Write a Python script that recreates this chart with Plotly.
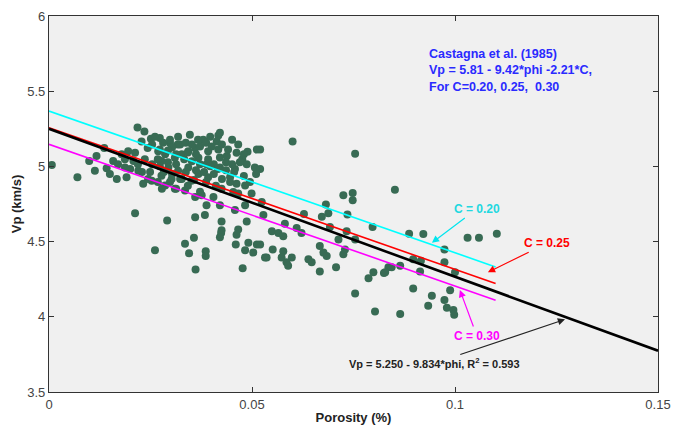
import numpy as np
import plotly.graph_objects as go

# ---- data ----
phi = [0.0007, 0.0218, 0.0235, 0.0251, 0.0228, 0.0243, 0.0136, 0.0117, 0.0099, 0.0113, 0.0070, 0.0142,
       0.0167, 0.0191, 0.0158, 0.0179, 0.0195, 0.0212, 0.0208, 0.0220, 0.0232, 0.0253, 0.0187, 0.0212,
       0.0273, 0.0298, 0.0317, 0.0380, 0.0417, 0.0413, 0.0417, 0.0438, 0.0462, 0.0489, 0.0512, 0.0476,
       0.0507, 0.0487, 0.0458, 0.0446, 0.0462, 0.0483, 0.0454, 0.0499, 0.0524, 0.0483, 0.0458, 0.0421,
       0.0388, 0.0405, 0.0376, 0.0360, 0.0335, 0.0310, 0.0286, 0.0384, 0.0425, 0.0291, 0.0360, 0.0425,
       0.0487, 0.0466, 0.0343, 0.0360, 0.0327, 0.0310, 0.0368, 0.0392, 0.0388, 0.0343, 0.0318, 0.0294,
       0.0277, 0.0269, 0.0368, 0.0392, 0.0351, 0.0327, 0.0302, 0.0277, 0.0421, 0.0425,
       0.0261, 0.0335, 0.0357, 0.0345, 0.0361, 0.0386, 0.0386, 0.0424, 0.0421, 0.0462, 0.0460, 0.0491,
       0.0512, 0.0483, 0.0503, 0.0477, 0.0532,
       0.0600, 0.0754, 0.0520, 0.0520, 0.0725, 0.0748, 0.0748, 0.0682, 0.0735, 0.0797, 0.0628, 0.0672,
       0.0688, 0.0528, 0.0581, 0.0610, 0.0692, 0.0713, 0.0733, 0.0549, 0.0565, 0.0577, 0.0622, 0.0667,
       0.0676, 0.0684, 0.0725, 0.0729, 0.0754, 0.0551, 0.0536, 0.0577, 0.0573, 0.0585, 0.0598, 0.0589,
       0.0639, 0.0647, 0.0667, 0.0707, 0.0787, 0.0799, 0.0825, 0.0836, 0.0754, 0.0803, 0.0520,
       0.0852, 0.0887, 0.0922, 0.1031, 0.1059, 0.1103, 0.0974, 0.0974, 0.0897, 0.0916, 0.0844, 0.0865,
       0.0828, 0.0914, 0.1000, 0.0988, 0.0897, 0.0943, 0.0934, 0.0974, 0.0980, 0.0996, 0.0998, 0.0865,
       0.0254, 0.0273, 0.0286, 0.0303, 0.0323, 0.0337, 0.0352, 0.0372, 0.0387, 0.0401, 0.0426, 0.0441,
       0.0293, 0.0313, 0.0333, 0.0352, 0.0372, 0.0392, 0.0406, 0.0421, 0.0436, 0.0451, 0.0283, 0.0303,
       0.0337, 0.0362, 0.0382, 0.0406, 0.0426, 0.0446, 0.0342, 0.0313, 0.0268, 0.0249, 0.0236, 0.0219,
       0.0261, 0.0281, 0.0298, 0.0318, 0.0347, 0.0367, 0.0397, 0.0421, 0.0451, 0.0466, 0.0480, 0.0470,
       0.0456, 0.0436, 0.0416, 0.0397, 0.0362, 0.0342, 0.0313, 0.0293, 0.0268, 0.0254, 0.0273, 0.0323,
       0.0357, 0.0387, 0.0411, 0.0372, 0.0298, 0.0278, 0.0244, 0.0229, 0.0200, 0.0187, 0.0170, 0.0150,
       0.0466, 0.0480, 0.0495, 0.0510]
vp = [5.010, 5.258, 5.232, 5.184, 5.166, 5.123, 5.123, 5.069, 5.036, 4.971, 4.928, 4.988,
      4.916, 4.928, 5.036, 5.080, 5.101, 5.090, 5.036, 4.971, 4.884, 4.905, 4.993, 4.688,
      5.189, 5.156, 5.145, 5.178, 5.206, 5.166, 5.112, 5.069, 5.091, 5.097, 5.112, 5.047,
      4.993, 5.014, 4.982, 4.928, 4.884, 4.873, 4.830, 4.819, 4.764, 4.742, 4.710, 4.742,
      4.742, 4.797, 4.808, 4.797, 4.840, 4.851, 4.873, 4.677, 4.634, 4.640, 4.662, 4.575,
      4.634, 4.580, 5.101, 5.123, 5.080, 5.058, 5.058, 5.101, 5.014, 4.993, 4.971, 4.993,
      5.036, 5.101, 4.949, 4.928, 4.905, 4.916, 4.916, 4.938, 4.993, 4.851,
      4.442, 4.486, 4.525, 4.422, 4.314, 4.436, 4.405, 4.557, 4.529, 4.546, 4.481, 4.492,
      4.481, 4.442, 4.427, 4.322, 4.394,
      5.166, 5.084, 5.112, 4.982, 4.808, 4.823, 4.775, 4.747, 4.681, 4.597, 4.683, 4.666,
      4.688, 4.677, 4.618, 4.590, 4.597, 4.514, 4.569, 4.569, 4.557, 4.536, 4.557, 4.471,
      4.427, 4.405, 4.416, 4.448, 4.514, 4.448, 4.394, 4.436, 4.394, 4.362, 4.394, 4.340,
      4.383, 4.362, 4.301, 4.329, 4.257, 4.296, 4.292, 4.329, 4.155, 4.035, 4.481,
      4.845, 4.553, 4.551, 4.525, 4.525, 4.553, 4.448, 4.362, 4.383, 4.372, 4.329, 4.340,
      4.296, 4.301, 4.296, 4.177, 4.188, 4.140, 4.074, 4.112, 4.061, 4.046, 4.014, 4.018,
      5.145, 5.112, 5.080, 5.125, 5.145, 5.158, 5.145, 5.132, 5.158, 5.132, 5.145, 5.112,
      5.027, 5.014, 5.047, 5.034, 5.014, 5.047, 5.014, 5.060, 5.027, 5.014, 4.962, 4.949,
      4.962, 4.975, 4.962, 4.949, 4.916, 4.897, 4.871, 4.851, 4.897, 4.962, 5.047, 5.014,
      5.197, 5.158, 5.178, 5.197, 5.210, 5.178, 5.197, 5.223, 5.178, 5.145, 5.080, 5.027,
      4.962, 4.975, 4.982, 5.001, 5.080, 5.093, 5.080, 5.106, 5.047, 5.014, 5.001, 4.916,
      4.910, 4.897, 4.871, 4.832, 4.897, 4.851, 4.916, 4.962, 4.982, 5.047, 5.014, 4.949,
      4.819, 4.936, 4.897, 4.949]

fit_a, fit_b = 5.250, 9.834          # regression line
cast_a, cast_b, cast_c = 5.81, 9.42, 2.21   # Castagna et al. (1985)
c_values = [0.20, 0.25, 0.30]
c_colors = ["#00ffff", "#ff0000", "#ff00ff"]
phi_fit_max = 0.15
phi_cast_max = 0.11

x_ticks = [0, 0.05, 0.1, 0.15]
x_ticktext = ["0", "0.05", "0.1", "0.15"]
y_ticks = [3.5, 4, 4.5, 5, 5.5, 6]
y_ticktext = ["3.5", "4", "4.5", "5", "5.5", "6"]

# ---- figure ----
fig = go.Figure()
fig.add_trace(go.Scatter(x=phi, y=vp, mode="markers",
                         marker=dict(color="#386b54", size=8, line=dict(width=0)),
                         showlegend=False))

for c, col in zip(c_values, c_colors):
    xs = np.array([0, phi_cast_max])
    fig.add_trace(go.Scatter(x=xs, y=cast_a - cast_b * xs - cast_c * c, mode="lines",
                             line=dict(color=col, width=1.6), showlegend=False))

xs = np.array([0, phi_fit_max])
fig.add_trace(go.Scatter(x=xs, y=fit_a - fit_b * xs, mode="lines",
                         line=dict(color="black", width=2.6), showlegend=False))

FONT = "Liberation Sans Narrow, Arial Narrow, Liberation Sans, Arial, sans-serif"
LABF = "Liberation Sans, Arial, sans-serif"

ann = []
# labelled arrows: head at a point on the chart, text offset (pixels) from the head
labels = [
    ("C = 0.20", 0.0943, 4.492, 45, -34, "#22d8e0", "#00e5ee", 12),
    ("C = 0.25", 0.1081, 4.296, 59, -29, "#ff0000", "#ff0000", 12),
    ("C = 0.30", 0.1012, 4.179, 17, 46, "#ff00ff", "#ff00ff", 12),
    ("Vp = 5.250 - 9.834*phi, R<sup>2</sup> = 0.593", 0.1271, 3.983, -131, 44,
     "#222222", "#222222", 11),
]
for s, x, y, ax, ay, tcol, acol, size in labels:
    ann.append(dict(x=x, y=y, xref="x", yref="y", text=f"<b>{s}</b>", showarrow=True,
                    ax=ax, ay=ay, arrowcolor=acol, arrowwidth=1.2, arrowhead=2, arrowsize=1.2,
                    xanchor="center", yanchor="middle", startstandoff=1,
                    font=dict(family=LABF, size=size, color=tcol)))

# pixel positions of texts -> paper coords
L, R, T, B = 49, 658, 9, 392
def px(xp): return (xp - L) / (R - L)
def py(yp): return (B - yp) / (B - T)

def txt(xp, yp, s, col, size=11, bold=True, xanchor="center"):
    ann.append(dict(x=px(xp), y=py(yp), xref="paper", yref="paper",
                    text=(f"<b>{s}</b>" if bold else s),
                    showarrow=False, xanchor=xanchor, yanchor="middle",
                    font=dict(family=LABF, size=size, color=col)))

txt(427, 48, "Castagna et al. (1985)", "#2a2aff", 12.5, xanchor="left")
txt(427, 64, "Vp = 5.81 - 9.42*phi -2.21*C,", "#2a2aff", 12.5, xanchor="left")
txt(427, 81, "For C=0.20, 0.25,  0.30", "#2a2aff", 12.5, xanchor="left")

axis_common = dict(showgrid=False, zeroline=False, showline=True, linecolor="#333333",
                   linewidth=1.2, mirror="ticks", ticks="inside", ticklen=5, tickcolor="#333333",
                   tickfont=dict(family=FONT, size=13, color="#444444"))

fig.update_layout(
    width=688, height=432,
    margin=dict(l=L, r=688 - R, t=T, b=432 - B),
    paper_bgcolor="white", plot_bgcolor="#f0f0f0",
    xaxis=dict(range=[0, 0.15], tickvals=x_ticks, ticktext=x_ticktext,
               title=dict(text="<b>Porosity (%)</b>", standoff=2,
                          font=dict(family=LABF, size=13, color="#222222")),
               **axis_common),
    yaxis=dict(range=[3.5, 6], tickvals=y_ticks, ticktext=y_ticktext,
               title=dict(text="<b>Vp (km/s)</b>", standoff=2,
                          font=dict(family=LABF, size=13, color="#222222")),
               **axis_common),
    annotations=ann,
    showlegend=False,
)

fig.write_html("out.html")
